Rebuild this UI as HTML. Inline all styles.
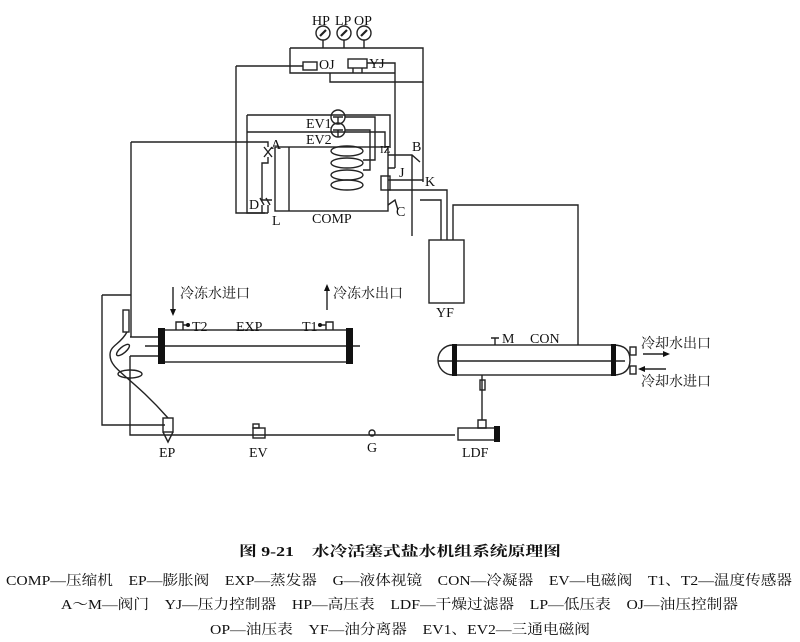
<!DOCTYPE html>
<html><head><meta charset="utf-8"><style>
html,body{margin:0;padding:0;background:#fff;}
svg{display:block;}
text{font-family:"Liberation Serif","Noto Serif CJK SC",serif;fill:#111;}
.c{font-family:"Liberation Serif","Noto Sans CJK SC",sans-serif;}
</style></head><body>
<svg width="800" height="642" viewBox="0 0 800 642" xmlns="http://www.w3.org/2000/svg">
<g fill="none" stroke="#222" stroke-width="1.4">
<circle cx="323" cy="33" r="7"/><circle cx="344" cy="33" r="7"/><circle cx="364" cy="33" r="7"/>
<path d="M320 36 L326 30 M341 36 L347 30 M361 36 L367 30" stroke-width="2.2"/>
<path d="M323 40 V48 M344 40 V48 M364 40 V48"/>
<path d="M290 48 H423 V82 H330 V73 M290 48 V73 H395"/>
<rect x="303" y="62" width="14" height="8"/><rect x="348" y="59" width="19" height="9"/>
<path d="M353 68 V73 M362 68 V73"/>
<path d="M236 66 H303 M236 66 V213 H268"/>
<path d="M367 63 H395 V168"/>
<path d="M423 82 V182"/>
<rect x="275" y="147" width="113" height="64"/>
<path d="M289 147 V211"/>
<ellipse cx="347" cy="151" rx="16" ry="5"/><ellipse cx="347" cy="163" rx="16" ry="5"/><ellipse cx="347" cy="175" rx="16" ry="5"/><ellipse cx="347" cy="185" rx="16" ry="5"/>
<circle cx="338" cy="117" r="7"/><circle cx="338" cy="130" r="7"/>
<path d="M333 117 H343 M338 117 V124 M333 130 H343 M338 130 V137"/>
<path d="M345 117 H375 V160 H363 M345 130 H370 V170 H363"/>
<path d="M247 115 H390 V148 M247 132 H385 V148 M247 115 V213 H265"/>
<path d="M131 142 H268 V147 M264 147 L272 157 M272 147 L264 157 M268 157 V163 H262 V200 H272"/>
<path d="M260 198 L264 205 M266 198 L270 205 M262 205 V213 M268 205 V213"/>
<path d="M388 155 H412 L420 162 M412 155 V230 M388 168 H395 M388 180 H423"/>
<rect x="381" y="176" width="9" height="14"/>
<path d="M388 190 H447 V240 M441 240 V200 H420 M412 230 V236"/>
<path d="M388 205 L395 200 L398 210"/>
<path d="M453 240 V205 H578 V342"/>
<rect x="429" y="240" width="35" height="63"/>
<rect x="162" y="330" width="187" height="32"/>
<path d="M145 346 H360"/>
<path d="M130 337 H162 M130 356 H162"/>
<path d="M176 330 V322 H183 V330 M326 330 V322 H333 V330 M183 325 H188 M320 325 H326"/>
<path d="M173 287 V312 M327 310 V286"/>
<path d="M131 142 V337 M130 356 V435 H455"/>
<path d="M102 295 H131 M102 295 V425 H165"/>
<rect x="123" y="310" width="6" height="22"/>
<path d="M127 332 C120 345 110 345 110 355 C110 370 130 375 168 418"/>
<ellipse cx="123" cy="350" rx="8" ry="3" transform="rotate(-40 123 350)"/>
<ellipse cx="130" cy="374" rx="12" ry="4"/>
<rect x="163" y="418" width="10" height="14"/><path d="M163 432 L168 442 L173 432"/>
<rect x="253" y="428" width="12" height="10"/><rect x="253" y="424" width="6" height="4"/>
<circle cx="372" cy="433" r="3"/>
<rect x="455" y="345" width="158" height="30"/>
<path d="M453 345 A15 15 0 0 0 453 375 M438 361 H625"/>
<path d="M613 345 Q630 345 630 360 Q630 375 613 375"/>
<rect x="630" y="347" width="6" height="8"/><rect x="630" y="366" width="6" height="8"/>
<path d="M495 345 V338 M491 338 H499 M578 342 V345"/>
<path d="M482 375 V420 M478 420 H486 V428 H478 Z"/>
<rect x="480" y="380" width="5" height="10"/>
<rect x="458" y="428" width="38" height="12"/>
<path d="M643 354 H668 M640 369 H666"/>
</g>
<g fill="#111">
<rect x="158" y="328" width="7" height="36"/><rect x="346" y="328" width="7" height="36"/>
<rect x="452" y="344" width="5" height="32"/><rect x="611" y="344" width="5" height="32"/>
<rect x="494" y="426" width="6" height="16"/>
<path d="M173 316 L170 309 L176 309 Z M327 284 L324 291 L330 291 Z M670 354 L663 351 L663 357 Z M638 369 L645 366 L645 372 Z"/>
<circle cx="188" cy="325" r="2"/><circle cx="320" cy="325" r="2"/>
</g>
<g font-size="14">
<text x="312" y="25">HP</text><text x="335" y="25">LP</text><text x="354" y="25">OP</text>
<text x="319" y="69">OJ</text><text x="369" y="68">YJ</text>
<text x="306" y="128">EV1</text><text x="306" y="144">EV2</text>
<text x="271" y="149">A</text><text x="412" y="151">B</text><text x="425" y="186">K</text><text x="399" y="177">J</text>
<text x="380" y="153" font-size="11">IZ</text><text x="396" y="216">C</text><text x="249" y="209">D</text><text x="272" y="225">L</text>
<text x="312" y="223">COMP</text><text x="436" y="317">YF</text>
<text x="192" y="331">T2</text><text x="236" y="331">EXP</text><text x="302" y="331">T1</text>
<text x="502" y="343">M</text><text x="530" y="343">CON</text>
<text x="159" y="457">EP</text><text x="249" y="457">EV</text><text x="367" y="452">G</text><text x="462" y="457">LDF</text>
</g>
<g font-size="14" class="c">
<text x="180" y="298">冷冻水进口</text><text x="333" y="298">冷冻水出口</text>
<text x="641" y="348">冷却水出口</text><text x="641" y="386">冷却水进口</text>
</g>
<g class="c" font-size="14">
<text x="400" y="556" text-anchor="middle" font-weight="bold" textLength="322" lengthAdjust="spacingAndGlyphs">图 9-21　水冷活塞式盐水机组系统原理图</text>
<text x="6" y="585" textLength="786" lengthAdjust="spacingAndGlyphs">COMP—压缩机　EP—膨胀阀　EXP—蒸发器　G—液体视镜　CON—冷凝器　EV—电磁阀　T1、T2—温度传感器</text>
<text x="61" y="609" textLength="677" lengthAdjust="spacingAndGlyphs">A～M—阀门　YJ—压力控制器　HP—高压表　LDF—干燥过滤器　LP—低压表　OJ—油压控制器</text>
<text x="210" y="634" textLength="380" lengthAdjust="spacingAndGlyphs">OP—油压表　YF—油分离器　EV1、EV2—三通电磁阀</text>
</g>
</svg>
</body></html>
